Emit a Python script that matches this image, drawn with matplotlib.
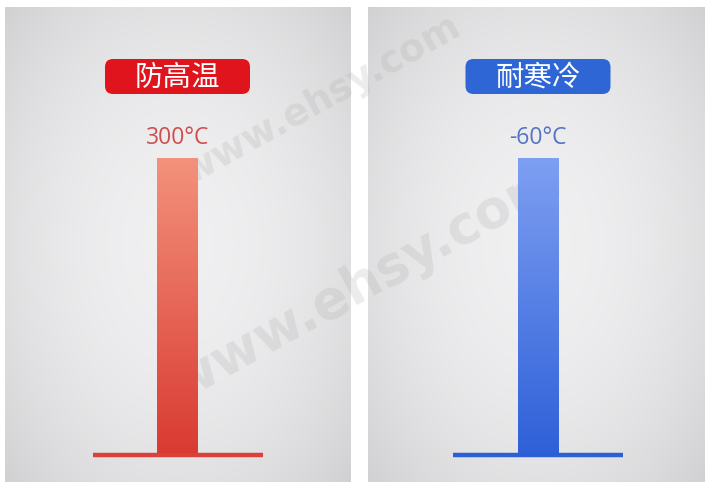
import numpy as np
import matplotlib
matplotlib.use("Agg")
import matplotlib.pyplot as plt
from matplotlib.patches import FancyBboxPatch
from matplotlib.colors import LinearSegmentedColormap

plt.rcParams['font.family'] = ['Noto Sans CJK SC', 'DejaVu Sans']

# ---- data ----
categories = ["防高温", "耐寒冷"]
value_labels = ["300°C", "-60°C"]
levels = [1.0, 1.0]          # both bars shown full
badge_colors = ["#e0141c", "#2f66d6"]
value_colors = ["#cf4f50", "#5574c4"]
bar_top_colors = ["#f3927c", "#7e9ff2"]
bar_bot_colors = ["#d93a31", "#2e60d8"]
base_colors = ["#d9413a", "#2c5fd6"]
watermark = "www.ehsy.com"

W, H = 705, 482
fig = plt.figure(figsize=(W / 100, H / 100), dpi=100)
ax = fig.add_axes([0, 0, 1, 1])
ax.set_xlim(0, W)
ax.set_ylim(H, 0)
ax.axis('off')
fig.patch.set_facecolor('white')

panels = [(5, 351), (368, 705)]
ptop, pbot = 7, 482

# background panels with soft vignette
for (x0, x1) in panels:
    nx, ny = 200, 280
    xx, yy = np.meshgrid(np.linspace(-1, 1, nx), np.linspace(-1, 1, ny))
    r = np.sqrt((xx * 0.95) ** 2 + (yy * 0.9) ** 2)
    v = 0.94 - 0.07 * np.clip(r, 0, 1.4) ** 2
    img = np.dstack([v, v, v + 0.006])
    ax.imshow(np.clip(img, 0, 1), extent=[x0, x1, pbot, ptop], aspect='auto',
              interpolation='bicubic', zorder=0)

# watermarks
for (tx, ty, rot, fs) in [(322, 100, 29, 27), (365, 283, 29, 38)]:
    ax.text(tx, ty, watermark, fontsize=fs, color='#a8a8a8', alpha=0.22,
            rotation=rot, ha='center', va='center', family='DejaVu Sans',
            fontweight='bold', zorder=1)

bar_w = 41
bar_top, bar_bot = 158, 455
line_half = 85
for i, (x0, x1) in enumerate(panels):
    cx = [177.5, 538][i]
    # badge
    bw, bh = 145, 35
    badge = FancyBboxPatch((cx - bw / 2, 59), bw, bh,
                           boxstyle="round,pad=0,rounding_size=8",
                           fc=badge_colors[i], ec='none', zorder=3)
    ax.add_patch(badge)
    ax.text(cx, 59 + bh / 2 + 1, categories[i], color='white', fontsize=20.5,
            ha='center', va='center', zorder=4)
    # value label
    ax.text(cx, 138, value_labels[i], color=value_colors[i], fontsize=16.5,
            ha='center', va='center', family=['Open Sans', 'DejaVu Sans'], zorder=4)
    # bar with gradient
    h = (bar_bot - bar_top) * levels[i]
    bars = ax.bar([cx], [-h], bottom=bar_bot, width=bar_w, color='none',
                  edgecolor='none', zorder=3)
    cmap = LinearSegmentedColormap.from_list('g', [bar_top_colors[i], bar_bot_colors[i]])
    grad = np.linspace(0, 1, 256).reshape(-1, 1)
    im = ax.imshow(grad, cmap=cmap, extent=[cx - bar_w / 2, cx + bar_w / 2, bar_bot, bar_bot - h],
                   aspect='auto', zorder=3)
    im.set_clip_path(bars[0])
    # base line
    ax.plot([cx - line_half, cx + line_half], [455, 455], color=base_colors[i],
            lw=3.2, solid_capstyle='butt', zorder=4)

fig.savefig("out.png", dpi=100)
